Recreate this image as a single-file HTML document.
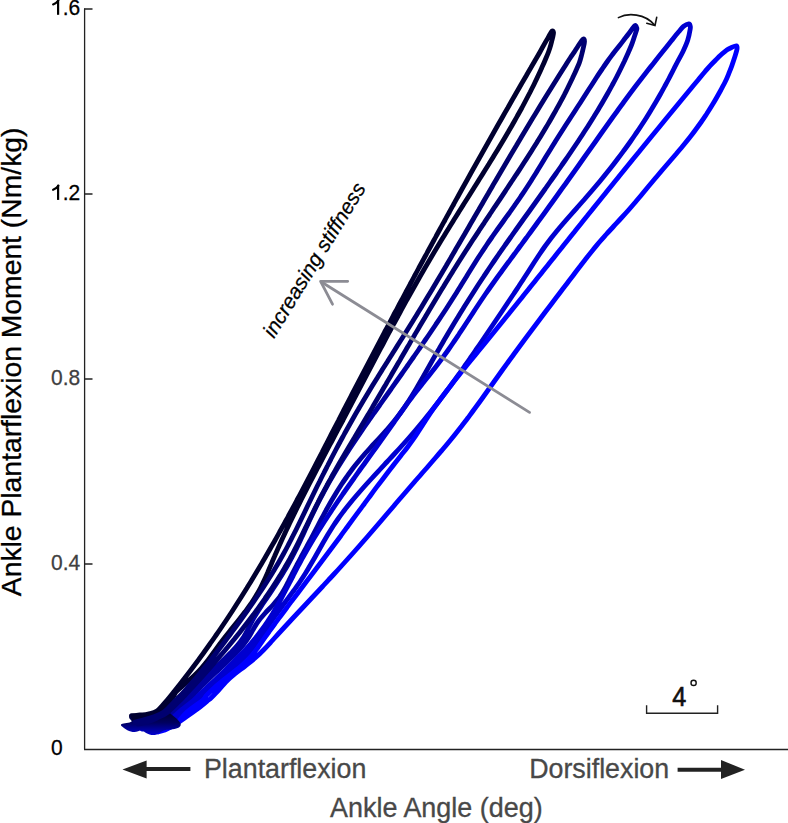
<!DOCTYPE html>
<html><head><meta charset="utf-8"><style>
html,body{margin:0;padding:0;background:#fff;}
body{width:788px;height:823px;overflow:hidden;position:relative;}
svg{position:absolute;left:0;top:0;}
text{font-family:"Liberation Sans",sans-serif;}
</style></head><body>
<svg width="788" height="823" viewBox="0 0 788 823">
<defs><linearGradient id="blobg" gradientUnits="userSpaceOnUse" x1="0" y1="712" x2="0" y2="736">
<stop offset="0" stop-color="#00002e"/><stop offset="0.45" stop-color="#000060"/><stop offset="1" stop-color="#0000d8"/></linearGradient></defs>
<!-- axes -->
<g stroke="#222" stroke-width="1.3" fill="none">
<path d="M84.6,8.4 V749.6"/>
<path d="M84,749.4 H788" stroke-width="1.5"/>
<path d="M84,9 H92.5 M84.6,194 H92.5 M84.6,379 H92.5 M84.6,564 H92.5"/>
</g>
<!-- tick labels -->
<g font-size="21" fill="#000" stroke="#000" stroke-width="0.25">
<text transform="translate(51,14.8) scale(1,1.09)" x="11.68">.6</text>
<text transform="translate(51,199.9) scale(1,1.09)" x="11.68">.2</text>
<text transform="translate(51,385) scale(1,1.09)" fill="#404040" stroke="#404040">0.8</text>
<text transform="translate(51,570.1) scale(1,1.09)" fill="#404040" stroke="#404040">0.4</text>
<text transform="translate(51,755.3) scale(1,1.09)">0</text>
</g>
<g stroke="#000" fill="none">
<path d="M58.1,-0.5 V14.8" stroke-width="2.2"/>
<path d="M58.4,0.3 Q56.6,3.2 53.1,4.5" stroke-width="2.1" stroke-linecap="round"/>
<path d="M58.1,184.8 V199.9" stroke-width="2.2"/>
<path d="M58.4,185.6 Q56.6,188.5 53.1,189.8" stroke-width="2.1" stroke-linecap="round"/>
</g>
<!-- curves -->

<g fill="none" stroke-width="4.8" stroke-linecap="round" stroke-linejoin="round">
<path d="M130.0,726.0 C133.3,725.7 144.8,725.2 150.0,724.0 C155.2,722.8 157.3,721.0 161.0,719.0 C164.7,717.0 168.0,715.2 172.0,712.0 C176.0,708.8 181.9,703.2 185.0,700.0 C188.1,696.8 188.7,695.5 190.8,693.0 C192.9,690.5 195.3,687.7 197.7,685.0 C200.1,682.3 202.7,679.7 205.3,677.0 C208.0,674.3 210.9,671.7 213.7,669.0 C216.5,666.3 219.4,663.7 222.2,661.0 C225.0,658.3 227.9,655.7 230.4,653.0 C233.0,650.3 235.6,647.7 237.7,645.0 C239.9,642.3 241.8,639.7 243.6,637.0 C245.3,634.3 246.6,631.7 248.0,629.0 C249.4,626.3 250.6,623.7 252.1,621.0 C253.6,618.3 255.2,615.7 256.9,613.0 C258.5,610.3 260.3,607.7 262.1,605.0 C263.9,602.3 265.8,599.7 267.6,597.0 C269.4,594.3 271.2,591.7 272.9,589.0 C274.7,586.3 276.4,583.7 278.1,581.0 C279.8,578.3 281.5,575.7 283.1,573.0 C284.7,570.3 286.3,567.7 287.8,565.0 C289.3,562.3 290.8,559.7 292.2,557.0 C293.6,554.3 294.9,551.7 296.3,549.0 C297.6,546.3 298.8,543.7 300.1,541.0 C301.3,538.3 302.6,535.7 303.8,533.0 C305.0,530.3 306.2,527.7 307.5,525.0 C308.7,522.3 309.9,519.7 311.2,517.0 C312.5,514.3 313.8,511.7 315.1,509.0 C316.4,506.3 317.7,503.7 319.1,501.0 C320.5,498.3 321.8,495.7 323.3,493.0 C324.7,490.3 326.1,487.7 327.6,485.0 C329.1,482.3 330.6,479.7 332.2,477.0 C333.7,474.3 335.3,471.7 336.9,469.0 C338.6,466.3 340.2,463.7 341.9,461.0 C343.6,458.3 345.3,455.7 347.0,453.0 C348.7,450.3 350.4,447.7 352.2,445.0 C354.0,442.3 355.8,439.7 357.6,437.0 C359.4,434.3 361.2,431.7 363.0,429.0 C364.8,426.3 366.7,423.7 368.5,421.0 C370.4,418.3 372.3,415.7 374.1,413.0 C376.0,410.3 377.9,407.7 379.8,405.0 C381.6,402.3 383.5,399.7 385.4,397.0 C387.3,394.3 389.2,391.7 391.1,389.0 C392.9,386.3 394.8,383.7 396.7,381.0 C398.6,378.3 400.5,375.7 402.4,373.0 C404.2,370.3 406.1,367.7 408.0,365.0 C409.8,362.3 411.7,359.7 413.6,357.0 C415.4,354.3 417.3,351.7 419.1,349.0 C421.0,346.3 422.8,343.7 424.6,341.0 C426.5,338.3 428.3,335.7 430.1,333.0 C431.9,330.3 433.7,327.7 435.5,325.0 C437.3,322.3 439.1,319.7 440.8,317.0 C442.6,314.3 444.3,311.7 446.1,309.0 C447.8,306.3 449.5,303.7 451.2,301.0 C452.9,298.3 454.6,295.7 456.3,293.0 C457.9,290.3 459.6,287.7 461.2,285.0 C462.9,282.3 464.5,279.7 466.2,277.0 C467.8,274.3 469.4,271.7 471.1,269.0 C472.8,266.3 474.4,263.7 476.1,261.0 C477.8,258.3 479.5,255.7 481.3,253.0 C483.0,250.3 484.8,247.7 486.6,245.0 C488.4,242.3 490.2,239.7 492.1,237.0 C493.9,234.3 495.8,231.7 497.7,229.0 C499.7,226.3 501.6,223.7 503.5,221.0 C505.4,218.3 507.3,215.7 509.3,213.0 C511.2,210.3 513.1,207.7 514.9,205.0 C516.8,202.3 518.7,199.7 520.5,197.0 C522.3,194.3 524.1,191.7 525.8,189.0 C527.6,186.3 529.3,183.7 531.0,181.0 C532.6,178.3 534.3,175.7 536.0,173.0 C537.6,170.3 539.2,167.7 540.9,165.0 C542.5,162.3 544.1,159.7 545.7,157.0 C547.4,154.3 549.0,151.7 550.7,149.0 C552.3,146.3 554.0,143.7 555.6,141.0 C557.3,138.3 559.0,135.7 560.7,133.0 C562.4,130.3 564.1,127.7 565.8,125.0 C567.6,122.3 569.3,119.7 571.0,117.0 C572.8,114.3 574.5,111.7 576.2,109.0 C577.9,106.3 579.7,103.7 581.4,101.0 C583.1,98.3 584.8,95.7 586.5,93.0 C588.2,90.3 589.9,87.7 591.7,85.0 C593.4,82.3 595.1,79.7 596.8,77.0 C598.6,74.3 600.3,71.7 602.2,69.0 C604.0,66.3 605.8,63.7 607.7,61.0 C609.6,58.3 611.6,55.7 613.6,53.0 C615.7,50.3 618.0,47.5 620.0,45.0 C622.0,42.5 623.7,40.1 625.5,37.8 C627.3,35.5 629.4,32.8 630.7,31.0 C632.1,29.2 632.8,27.9 633.6,27.0 C634.4,26.1 635.0,25.3 635.5,25.5 C636.0,25.7 636.6,27.2 636.8,28.0 C637.0,28.8 637.0,28.6 636.5,30.2 C636.0,31.8 634.8,35.3 634.0,37.8 C633.2,40.3 632.5,42.5 631.5,45.0 C630.5,47.5 629.3,50.3 628.1,53.0 C626.9,55.7 625.7,58.3 624.5,61.0 C623.2,63.7 621.9,66.3 620.6,69.0 C619.3,71.7 618.0,74.3 616.6,77.0 C615.2,79.7 613.8,82.3 612.3,85.0 C610.9,87.7 609.4,90.3 607.9,93.0 C606.4,95.7 604.9,98.3 603.3,101.0 C601.8,103.7 600.2,106.3 598.6,109.0 C597.0,111.7 595.3,114.3 593.7,117.0 C592.0,119.7 590.4,122.3 588.7,125.0 C587.0,127.7 585.2,130.3 583.5,133.0 C581.8,135.7 580.0,138.3 578.3,141.0 C576.5,143.7 574.7,146.3 572.9,149.0 C571.1,151.7 569.3,154.3 567.5,157.0 C565.6,159.7 563.8,162.3 561.9,165.0 C560.1,167.7 558.2,170.3 556.4,173.0 C554.5,175.7 552.6,178.3 550.7,181.0 C548.9,183.7 547.0,186.3 545.1,189.0 C543.2,191.7 541.3,194.3 539.4,197.0 C537.5,199.7 535.6,202.3 533.7,205.0 C531.8,207.7 529.9,210.3 528.0,213.0 C526.0,215.7 524.1,218.3 522.2,221.0 C520.3,223.7 518.4,226.3 516.5,229.0 C514.6,231.7 512.7,234.3 510.9,237.0 C509.0,239.7 507.1,242.3 505.2,245.0 C503.4,247.7 501.5,250.3 499.6,253.0 C497.8,255.7 496.0,258.3 494.1,261.0 C492.3,263.7 490.5,266.3 488.7,269.0 C486.9,271.7 485.1,274.3 483.4,277.0 C481.6,279.7 479.9,282.3 478.1,285.0 C476.4,287.7 474.7,290.3 473.0,293.0 C471.3,295.7 469.6,298.3 467.9,301.0 C466.2,303.7 464.5,306.3 462.9,309.0 C461.2,311.7 459.6,314.3 458.0,317.0 C456.3,319.7 454.7,322.3 453.1,325.0 C451.5,327.7 449.9,330.3 448.3,333.0 C446.8,335.7 445.2,338.3 443.6,341.0 C442.1,343.7 440.5,346.3 439.0,349.0 C437.4,351.7 435.9,354.3 434.3,357.0 C432.8,359.7 431.3,362.3 429.8,365.0 C428.3,367.7 426.8,370.3 425.3,373.0 C423.8,375.7 422.3,378.3 420.7,381.0 C419.2,383.7 417.7,386.3 416.1,389.0 C414.5,391.7 412.9,394.3 411.2,397.0 C409.6,399.7 407.9,402.3 406.0,405.0 C404.2,407.7 402.4,410.3 400.4,413.0 C398.4,415.7 396.4,418.3 394.2,421.0 C392.0,423.7 389.7,426.3 387.4,429.0 C385.0,431.7 382.6,434.3 380.2,437.0 C377.8,439.7 375.3,442.3 372.8,445.0 C370.4,447.7 368.0,450.3 365.6,453.0 C363.3,455.7 361.0,458.3 358.8,461.0 C356.6,463.7 354.4,466.3 352.4,469.0 C350.4,471.7 348.4,474.3 346.6,477.0 C344.7,479.7 342.9,482.3 341.1,485.0 C339.4,487.7 337.7,490.3 336.1,493.0 C334.5,495.7 332.9,498.3 331.3,501.0 C329.8,503.7 328.3,506.3 326.8,509.0 C325.3,511.7 323.9,514.3 322.5,517.0 C321.0,519.7 319.6,522.3 318.2,525.0 C316.8,527.7 315.4,530.3 314.0,533.0 C312.6,535.7 311.2,538.3 309.8,541.0 C308.3,543.7 306.9,546.3 305.5,549.0 C304.0,551.7 302.6,554.3 301.1,557.0 C299.7,559.7 298.3,562.3 296.8,565.0 C295.4,567.7 294.0,570.3 292.6,573.0 C291.3,575.7 289.9,578.3 288.6,581.0 C287.2,583.7 286.0,586.3 284.5,589.0 C283.0,591.7 281.5,594.3 279.6,597.0 C277.6,599.7 275.3,602.3 272.9,605.0 C270.6,607.7 267.7,610.3 265.3,613.0 C262.9,615.7 260.5,618.3 258.5,621.0 C256.5,623.7 255.1,626.3 253.5,629.0 C251.9,631.7 250.6,634.3 248.9,637.0 C247.2,639.7 245.3,642.3 243.2,645.0 C241.0,647.7 238.6,650.3 236.0,653.0 C233.5,655.7 230.7,658.3 227.9,661.0 C225.1,663.7 222.3,666.3 219.4,669.0 C216.6,671.7 213.7,674.3 210.9,677.0 C208.2,679.7 205.4,682.3 202.8,685.0 C200.2,687.7 197.5,690.5 195.3,693.0 C193.1,695.5 192.7,696.8 189.5,700.0 C186.3,703.2 180.1,708.7 176.0,712.0 C171.9,715.3 168.8,717.7 165.0,720.0 C161.2,722.3 157.8,724.7 153.0,726.0 C148.2,727.3 138.8,727.7 136.0,728.0" stroke="#0000a0"/>
<path d="M142.0,729.0 C144.5,728.7 152.5,728.3 157.0,727.0 C161.5,725.7 165.3,723.5 169.0,721.0 C172.7,718.5 174.8,715.5 179.0,712.0 C183.2,708.5 190.5,703.0 194.0,700.0 C197.5,697.0 197.7,696.3 200.1,694.0 C202.5,691.7 205.7,688.7 208.5,686.0 C211.3,683.3 214.2,680.7 217.0,678.0 C219.8,675.3 222.6,672.7 225.4,670.0 C228.1,667.3 230.8,664.7 233.5,662.0 C236.2,659.3 238.8,656.7 241.3,654.0 C243.9,651.3 246.3,648.7 248.7,646.0 C251.0,643.3 253.3,640.7 255.5,638.0 C257.6,635.3 259.7,632.7 261.6,630.0 C263.6,627.3 265.4,624.7 267.2,622.0 C269.0,619.3 270.7,616.7 272.4,614.0 C274.0,611.3 275.6,608.7 277.1,606.0 C278.7,603.3 280.1,600.7 281.6,598.0 C283.0,595.3 284.4,592.7 285.8,590.0 C287.2,587.3 288.6,584.7 290.0,582.0 C291.3,579.3 292.7,576.7 294.1,574.0 C295.5,571.3 296.8,568.7 298.2,566.0 C299.6,563.3 301.1,560.7 302.5,558.0 C304.0,555.3 305.5,552.7 307.0,550.0 C308.6,547.3 310.1,544.7 311.7,542.0 C313.3,539.3 314.9,536.7 316.6,534.0 C318.2,531.3 319.9,528.7 321.6,526.0 C323.3,523.3 325.0,520.7 326.8,518.0 C328.5,515.3 330.3,512.7 332.0,510.0 C333.8,507.3 335.6,504.7 337.4,502.0 C339.3,499.3 341.1,496.7 342.9,494.0 C344.8,491.3 346.6,488.7 348.5,486.0 C350.4,483.3 352.3,480.7 354.2,478.0 C356.0,475.3 357.9,472.7 359.8,470.0 C361.7,467.3 363.7,464.7 365.6,462.0 C367.5,459.3 369.4,456.7 371.3,454.0 C373.2,451.3 375.2,448.7 377.1,446.0 C379.0,443.3 380.9,440.7 382.8,438.0 C384.7,435.3 386.6,432.7 388.5,430.0 C390.4,427.3 392.3,424.7 394.2,422.0 C396.1,419.3 398.0,416.7 399.8,414.0 C401.7,411.3 403.6,408.7 405.5,406.0 C407.4,403.3 409.4,400.7 411.4,398.0 C413.3,395.3 415.4,392.7 417.5,390.0 C419.5,387.3 421.7,384.7 423.8,382.0 C425.9,379.3 428.1,376.7 430.2,374.0 C432.3,371.3 434.4,368.7 436.4,366.0 C438.4,363.3 440.4,360.7 442.4,358.0 C444.4,355.3 446.3,352.7 448.2,350.0 C450.1,347.3 451.9,344.7 453.7,342.0 C455.6,339.3 457.3,336.7 459.1,334.0 C460.9,331.3 462.7,328.7 464.4,326.0 C466.1,323.3 467.9,320.7 469.6,318.0 C471.4,315.3 473.1,312.7 474.8,310.0 C476.6,307.3 478.3,304.7 480.1,302.0 C481.9,299.3 483.7,296.7 485.5,294.0 C487.4,291.3 489.2,288.7 491.1,286.0 C493.0,283.3 494.9,280.7 496.8,278.0 C498.7,275.3 500.7,272.7 502.6,270.0 C504.6,267.3 506.5,264.7 508.5,262.0 C510.5,259.3 512.5,256.7 514.4,254.0 C516.4,251.3 518.4,248.7 520.3,246.0 C522.3,243.3 524.3,240.7 526.2,238.0 C528.2,235.3 530.2,232.7 532.1,230.0 C534.1,227.3 536.0,224.7 537.9,222.0 C539.9,219.3 541.8,216.7 543.8,214.0 C545.7,211.3 547.6,208.7 549.5,206.0 C551.5,203.3 553.4,200.7 555.3,198.0 C557.2,195.3 559.1,192.7 561.0,190.0 C562.9,187.3 564.9,184.7 566.8,182.0 C568.7,179.3 570.6,176.7 572.5,174.0 C574.4,171.3 576.3,168.7 578.2,166.0 C580.1,163.3 581.9,160.7 583.8,158.0 C585.7,155.3 587.6,152.7 589.5,150.0 C591.4,147.3 593.3,144.7 595.2,142.0 C597.1,139.3 598.9,136.7 600.8,134.0 C602.7,131.3 604.6,128.7 606.5,126.0 C608.4,123.3 610.3,120.7 612.2,118.0 C614.1,115.3 616.1,112.7 618.0,110.0 C619.9,107.3 621.9,104.7 623.8,102.0 C625.8,99.3 627.7,96.7 629.7,94.0 C631.7,91.3 633.7,88.7 635.7,86.0 C637.8,83.3 639.8,80.7 641.9,78.0 C643.9,75.3 646.0,72.7 648.1,70.0 C650.2,67.3 652.1,65.1 654.5,62.0 C656.9,58.9 659.9,55.1 662.8,51.5 C665.7,47.9 669.2,43.5 671.8,40.3 C674.4,37.0 676.5,34.3 678.5,32.0 C680.5,29.7 681.8,27.8 683.5,26.4 C685.2,25.0 687.7,23.9 688.8,23.8 C689.9,23.7 690.0,25.1 690.2,26.0 C690.4,26.9 690.6,26.8 690.2,29.2 C689.8,31.6 688.9,36.6 687.7,40.3 C686.5,44.0 684.7,47.9 683.0,51.5 C681.3,55.1 679.0,58.9 677.4,62.0 C675.8,65.1 674.7,67.3 673.3,70.0 C672.0,72.7 670.6,75.3 669.2,78.0 C667.8,80.7 666.4,83.3 664.9,86.0 C663.5,88.7 662.0,91.3 660.5,94.0 C659.0,96.7 657.5,99.3 655.9,102.0 C654.3,104.7 652.8,107.3 651.1,110.0 C649.5,112.7 647.9,115.3 646.2,118.0 C644.5,120.7 642.8,123.3 641.0,126.0 C639.3,128.7 637.5,131.3 635.6,134.0 C633.8,136.7 632.0,139.3 630.1,142.0 C628.2,144.7 626.3,147.3 624.3,150.0 C622.3,152.7 620.4,155.3 618.3,158.0 C616.3,160.7 614.3,163.3 612.2,166.0 C610.1,168.7 608.0,171.3 605.8,174.0 C603.7,176.7 601.5,179.3 599.3,182.0 C597.0,184.7 594.8,187.3 592.5,190.0 C590.2,192.7 587.9,195.3 585.6,198.0 C583.3,200.7 580.9,203.3 578.6,206.0 C576.2,208.7 573.8,211.3 571.5,214.0 C569.1,216.7 566.8,219.3 564.5,222.0 C562.2,224.7 559.9,227.3 557.7,230.0 C555.5,232.7 553.3,235.3 551.2,238.0 C549.2,240.7 547.2,243.3 545.2,246.0 C543.3,248.7 541.5,251.3 539.7,254.0 C537.9,256.7 536.2,259.3 534.4,262.0 C532.7,264.7 531.0,267.3 529.3,270.0 C527.6,272.7 525.9,275.3 524.1,278.0 C522.4,280.7 520.6,283.3 518.9,286.0 C517.1,288.7 515.3,291.3 513.6,294.0 C511.8,296.7 510.0,299.3 508.2,302.0 C506.4,304.7 504.7,307.3 502.9,310.0 C501.1,312.7 499.3,315.3 497.5,318.0 C495.7,320.7 493.9,323.3 492.1,326.0 C490.3,328.7 488.5,331.3 486.7,334.0 C484.9,336.7 483.1,339.3 481.3,342.0 C479.5,344.7 477.7,347.3 475.8,350.0 C474.0,352.7 472.2,355.3 470.3,358.0 C468.5,360.7 466.6,363.3 464.7,366.0 C462.9,368.7 461.0,371.3 459.1,374.0 C457.2,376.7 455.3,379.3 453.3,382.0 C451.4,384.7 449.4,387.3 447.4,390.0 C445.4,392.7 443.4,395.3 441.4,398.0 C439.4,400.7 437.3,403.3 435.2,406.0 C433.2,408.7 431.1,411.3 428.9,414.0 C426.8,416.7 424.6,419.3 422.4,422.0 C420.2,424.7 418.0,427.3 415.7,430.0 C413.4,432.7 411.1,435.3 408.8,438.0 C406.4,440.7 404.0,443.3 401.6,446.0 C399.2,448.7 396.8,451.3 394.3,454.0 C391.9,456.7 389.4,459.3 386.9,462.0 C384.4,464.7 381.9,467.3 379.5,470.0 C377.0,472.7 374.5,475.3 372.1,478.0 C369.6,480.7 367.2,483.3 364.8,486.0 C362.4,488.7 360.1,491.3 357.8,494.0 C355.5,496.7 353.2,499.3 351.0,502.0 C348.8,504.7 346.7,507.3 344.6,510.0 C342.6,512.7 340.6,515.3 338.7,518.0 C336.8,520.7 335.0,523.3 333.2,526.0 C331.5,528.7 329.9,531.3 328.2,534.0 C326.6,536.7 325.1,539.3 323.5,542.0 C322.0,544.7 320.5,547.3 319.0,550.0 C317.5,552.7 316.0,555.3 314.5,558.0 C312.9,560.7 311.4,563.3 309.8,566.0 C308.3,568.7 306.7,571.3 305.0,574.0 C303.3,576.7 301.6,579.3 299.8,582.0 C298.0,584.7 296.1,587.3 294.2,590.0 C292.2,592.7 290.2,595.3 288.3,598.0 C286.3,600.7 284.3,603.3 282.3,606.0 C280.4,608.7 278.4,611.3 276.5,614.0 C274.6,616.7 272.7,619.3 270.9,622.0 C269.1,624.7 267.4,627.3 265.6,630.0 C263.8,632.7 262.1,635.3 260.2,638.0 C258.4,640.7 256.5,643.3 254.4,646.0 C252.3,648.7 250.2,651.3 247.7,654.0 C245.3,656.7 242.6,659.3 239.8,662.0 C237.0,664.7 233.8,667.3 230.7,670.0 C227.5,672.7 224.2,675.3 221.0,678.0 C217.8,680.7 214.6,683.3 211.6,686.0 C208.7,688.7 205.6,691.7 203.4,694.0 C201.2,696.3 201.9,697.0 198.5,700.0 C195.1,703.0 187.2,708.3 183.0,712.0 C178.8,715.7 176.7,719.2 173.0,722.0 C169.3,724.8 165.0,727.5 161.0,729.0 C157.0,730.5 151.0,730.7 149.0,731.0" stroke="#0000d0"/>
<path d="M154.0,732.0 C155.8,731.7 161.2,731.5 165.0,730.0 C168.8,728.5 173.3,726.0 177.0,723.0 C180.7,720.0 182.7,715.8 187.0,712.0 C191.3,708.2 199.8,702.7 203.0,700.0 C206.2,697.3 204.4,697.8 206.3,695.7 C208.2,693.7 211.4,690.4 214.4,687.7 C217.3,685.0 220.8,682.4 224.1,679.7 C227.4,677.0 230.9,674.4 234.2,671.7 C237.5,669.0 240.8,666.4 243.7,663.7 C246.6,661.0 249.3,658.4 251.6,655.7 C254.0,653.0 255.9,650.4 257.9,647.7 C259.8,645.0 261.5,642.4 263.4,639.7 C265.3,637.0 267.1,634.4 269.1,631.7 C271.0,629.0 272.9,626.4 274.9,623.7 C276.8,621.0 278.8,618.4 280.8,615.7 C282.8,613.0 284.8,610.4 286.8,607.7 C288.7,605.0 290.7,602.4 292.7,599.7 C294.8,597.0 296.8,594.4 298.8,591.7 C300.8,589.0 302.8,586.4 304.8,583.7 C306.8,581.0 308.8,578.4 310.9,575.7 C312.9,573.0 314.9,570.4 316.9,567.7 C318.9,565.0 320.9,562.4 322.9,559.7 C324.9,557.0 326.9,554.4 328.9,551.7 C330.9,549.0 332.9,546.4 334.9,543.7 C336.9,541.0 338.9,538.4 340.9,535.7 C342.8,533.0 344.8,530.4 346.7,527.7 C348.7,525.0 350.7,522.4 352.6,519.7 C354.6,517.0 356.5,514.4 358.5,511.7 C360.4,509.0 362.4,506.4 364.4,503.7 C366.3,501.0 368.3,498.4 370.3,495.7 C372.3,493.0 374.2,490.4 376.2,487.7 C378.2,485.0 380.2,482.4 382.3,479.7 C384.3,477.0 386.3,474.4 388.3,471.7 C390.4,469.0 392.5,466.4 394.5,463.7 C396.6,461.0 398.7,458.4 400.8,455.7 C402.9,453.0 405.1,450.4 407.1,447.7 C409.1,445.0 411.1,442.4 413.0,439.7 C414.9,437.0 416.6,434.4 418.3,431.7 C420.1,429.0 421.7,426.4 423.5,423.7 C425.2,421.0 426.9,418.4 428.7,415.7 C430.5,413.0 432.3,410.4 434.2,407.7 C436.1,405.0 438.0,402.4 440.0,399.7 C441.9,397.0 443.9,394.4 446.0,391.7 C448.0,389.0 450.1,386.4 452.1,383.7 C454.2,381.0 456.3,378.4 458.5,375.7 C460.6,373.0 462.7,370.4 464.9,367.7 C467.0,365.0 469.2,362.4 471.4,359.7 C473.6,357.0 475.8,354.4 477.9,351.7 C480.1,349.0 482.3,346.4 484.5,343.7 C486.7,341.0 488.8,338.4 491.0,335.7 C493.2,333.0 495.3,330.4 497.5,327.7 C499.7,325.0 501.8,322.4 504.0,319.7 C506.1,317.0 508.3,314.4 510.4,311.7 C512.6,309.0 514.7,306.4 516.9,303.7 C519.0,301.0 521.2,298.4 523.3,295.7 C525.4,293.0 527.6,290.4 529.7,287.7 C531.8,285.0 534.0,282.4 536.1,279.7 C538.2,277.0 540.4,274.4 542.5,271.7 C544.6,269.0 546.8,266.4 548.9,263.7 C551.0,261.0 553.2,258.4 555.3,255.7 C557.4,253.0 559.5,250.4 561.7,247.7 C563.8,245.0 565.9,242.4 568.1,239.7 C570.2,237.0 572.3,234.4 574.5,231.7 C576.6,229.0 578.7,226.4 580.9,223.7 C583.0,221.0 585.1,218.4 587.3,215.7 C589.4,213.0 591.6,210.4 593.7,207.7 C595.9,205.0 598.0,202.4 600.2,199.7 C602.3,197.0 604.5,194.4 606.6,191.7 C608.8,189.0 610.9,186.4 613.1,183.7 C615.2,181.0 617.4,178.4 619.5,175.7 C621.7,173.0 623.9,170.4 626.0,167.7 C628.2,165.0 630.4,162.4 632.5,159.7 C634.7,157.0 636.9,154.4 639.1,151.7 C641.2,149.0 643.4,146.4 645.6,143.7 C647.8,141.0 649.9,138.4 652.1,135.7 C654.3,133.0 656.5,130.4 658.7,127.7 C660.9,125.0 663.0,122.4 665.2,119.7 C667.4,117.0 669.6,114.4 671.8,111.7 C674.0,109.0 676.2,106.4 678.4,103.7 C680.6,101.0 682.8,98.4 685.0,95.7 C687.2,93.0 689.4,90.4 691.6,87.7 C693.8,85.0 696.0,82.4 698.3,79.7 C700.5,77.0 702.9,74.0 704.9,71.7 C706.9,69.4 708.2,67.7 710.0,65.8 C711.8,63.9 713.7,62.0 715.5,60.2 C717.3,58.4 719.0,56.6 720.8,55.0 C722.6,53.4 724.4,51.6 726.2,50.4 C728.0,49.1 729.8,48.3 731.5,47.5 C733.2,46.7 735.4,45.5 736.3,45.8 C737.2,46.1 737.3,47.2 737.0,49.2 C736.7,51.2 735.5,54.8 734.6,57.6 C733.7,60.4 732.8,63.1 731.8,65.9 C730.8,68.7 729.6,71.6 728.5,74.3 C727.4,77.0 726.4,79.4 725.1,82.0 C723.8,84.6 722.3,87.3 720.9,90.0 C719.4,92.7 717.9,95.3 716.4,98.0 C714.9,100.7 713.3,103.3 711.6,106.0 C710.0,108.7 708.3,111.3 706.6,114.0 C704.8,116.7 703.1,119.3 701.2,122.0 C699.3,124.7 697.4,127.3 695.4,130.0 C693.5,132.7 691.4,135.3 689.3,138.0 C687.2,140.7 685.0,143.3 682.8,146.0 C680.6,148.7 678.3,151.3 676.1,154.0 C673.8,156.7 671.5,159.3 669.2,162.0 C666.9,164.7 664.6,167.3 662.3,170.0 C660.1,172.7 657.8,175.3 655.5,178.0 C653.3,180.7 651.1,183.3 648.8,186.0 C646.6,188.7 644.4,191.3 642.2,194.0 C640.0,196.7 637.7,199.3 635.5,202.0 C633.2,204.7 630.9,207.3 628.6,210.0 C626.2,212.7 623.8,215.3 621.3,218.0 C618.9,220.7 616.4,223.3 613.9,226.0 C611.5,228.7 609.0,231.3 606.6,234.0 C604.2,236.7 601.8,239.3 599.5,242.0 C597.3,244.7 595.0,247.3 592.9,250.0 C590.7,252.7 588.6,255.3 586.5,258.0 C584.4,260.7 582.3,263.3 580.3,266.0 C578.2,268.7 576.2,271.3 574.2,274.0 C572.2,276.7 570.1,279.3 568.1,282.0 C566.1,284.7 564.0,287.3 562.0,290.0 C560.0,292.7 558.0,295.3 555.9,298.0 C553.9,300.7 551.9,303.3 549.9,306.0 C547.8,308.7 545.8,311.3 543.8,314.0 C541.8,316.7 539.8,319.3 537.8,322.0 C535.8,324.7 533.8,327.3 531.8,330.0 C529.8,332.7 527.8,335.3 525.8,338.0 C523.8,340.7 521.9,343.3 519.9,346.0 C517.9,348.7 516.0,351.3 514.0,354.0 C512.1,356.7 510.1,359.3 508.2,362.0 C506.3,364.7 504.3,367.3 502.4,370.0 C500.5,372.7 498.6,375.3 496.7,378.0 C494.8,380.7 492.9,383.3 491.0,386.0 C489.1,388.7 487.2,391.3 485.3,394.0 C483.4,396.7 481.5,399.3 479.6,402.0 C477.6,404.7 475.7,407.3 473.7,410.0 C471.8,412.7 469.8,415.3 467.8,418.0 C465.8,420.7 463.7,423.3 461.7,426.0 C459.6,428.7 457.5,431.3 455.4,434.0 C453.3,436.7 451.1,439.3 448.9,442.0 C446.7,444.7 444.5,447.3 442.2,450.0 C439.9,452.7 437.7,455.3 435.3,458.0 C433.0,460.7 430.7,463.3 428.4,466.0 C426.1,468.7 423.7,471.3 421.4,474.0 C419.1,476.7 416.7,479.3 414.4,482.0 C412.1,484.7 409.8,487.3 407.5,490.0 C405.2,492.7 402.9,495.3 400.6,498.0 C398.3,500.7 396.0,503.3 393.8,506.0 C391.5,508.7 389.2,511.3 386.9,514.0 C384.6,516.7 382.4,519.3 380.1,522.0 C377.8,524.7 375.5,527.3 373.2,530.0 C370.9,532.7 368.6,535.3 366.3,538.0 C363.9,540.7 361.6,543.3 359.3,546.0 C356.9,548.7 354.6,551.3 352.2,554.0 C349.8,556.7 347.4,559.3 345.0,562.0 C342.6,564.7 340.2,567.3 337.8,570.0 C335.3,572.7 332.9,575.3 330.4,578.0 C327.9,580.7 325.4,583.3 323.0,586.0 C320.5,588.7 318.0,591.3 315.5,594.0 C313.0,596.7 310.5,599.3 308.0,602.0 C305.5,604.7 303.0,607.3 300.5,610.0 C298.0,612.7 295.5,615.3 293.0,618.0 C290.5,620.7 288.1,623.3 285.6,626.0 C283.1,628.7 280.7,631.3 278.2,634.0 C275.8,636.7 273.4,639.3 271.0,642.0 C268.5,644.7 266.1,647.3 263.5,650.0 C260.9,652.7 258.2,655.3 255.1,658.0 C252.1,660.7 248.6,663.3 245.2,666.0 C241.8,668.7 238.0,671.3 234.8,674.0 C231.5,676.7 228.5,679.3 225.8,682.0 C223.1,684.7 221.2,687.3 218.7,690.0 C216.3,692.7 212.7,696.3 211.0,698.0 C209.3,699.7 210.3,698.5 208.5,700.0 C206.7,701.5 203.8,704.2 200.0,707.0 C196.2,709.8 190.0,714.2 186.0,717.0 C182.0,719.8 179.2,722.0 176.0,724.0 C172.8,726.0 170.0,727.7 167.0,729.0 C164.0,730.3 159.5,731.5 158.0,732.0" stroke="#0000ff"/>
</g><path d="M164.7,702.7 C162.8,702.3 160.3,707.9 157.6,709.8 C154.9,711.7 153.1,713.6 148.7,714.2 C144.3,714.8 134.7,712.7 131.4,713.3 C128.2,713.9 129.2,716.4 129.2,717.8 C129.2,719.2 132.7,720.8 131.4,721.8 C130.2,722.8 123.2,723.2 121.7,724.0 C120.2,724.8 121.1,725.6 122.1,726.6 C123.0,727.6 125.3,729.3 127.4,730.2 C129.5,731.1 132.1,732.0 134.5,732.0 C136.9,732.0 139.7,730.1 141.6,730.2 C143.5,730.4 144.2,732.1 146.1,732.9 C148.0,733.7 151.0,735.1 153.2,735.1 C155.4,735.1 157.5,733.7 159.4,732.9 C161.3,732.1 162.5,730.8 164.7,730.2 C166.9,729.6 170.3,729.8 172.7,729.3 C175.1,728.8 177.6,728.4 178.9,727.5 C180.2,726.6 181.0,725.4 180.7,724.0 C180.4,722.6 178.9,721.0 177.0,719.0 C175.1,717.0 171.1,714.7 169.0,712.0 C166.9,709.3 166.6,703.1 164.7,702.7Z" fill="url(#blobg)" stroke="none"/><g fill="none" stroke-width="4.8" stroke-linecap="round" stroke-linejoin="round">
<path d="M133.0,716.0 C134.2,715.8 137.5,715.3 140.0,715.0 C142.5,714.7 145.2,714.7 148.0,714.0 C150.8,713.3 153.8,713.3 157.0,711.0 C160.2,708.7 164.4,703.2 167.2,700.0 C170.0,696.8 171.6,694.7 173.7,692.0 C175.9,689.3 178.0,686.7 180.1,684.0 C182.2,681.3 184.3,678.7 186.3,676.0 C188.4,673.3 190.4,670.7 192.4,668.0 C194.4,665.3 196.4,662.7 198.4,660.0 C200.3,657.3 202.3,654.7 204.2,652.0 C206.1,649.3 208.0,646.7 209.9,644.0 C211.8,641.3 213.7,638.7 215.5,636.0 C217.4,633.3 219.2,630.7 221.0,628.0 C222.8,625.3 224.6,622.7 226.4,620.0 C228.2,617.3 229.9,614.7 231.7,612.0 C233.4,609.3 235.1,606.7 236.8,604.0 C238.5,601.3 240.2,598.7 241.9,596.0 C243.6,593.3 245.2,590.7 246.9,588.0 C248.5,585.3 250.2,582.7 251.8,580.0 C253.4,577.3 255.0,574.7 256.6,572.0 C258.2,569.3 259.8,566.7 261.4,564.0 C262.9,561.3 264.5,558.7 266.0,556.0 C267.6,553.3 269.1,550.7 270.6,548.0 C272.1,545.3 273.7,542.7 275.2,540.0 C276.7,537.3 278.2,534.7 279.6,532.0 C281.1,529.3 282.6,526.7 284.1,524.0 C285.5,521.3 287.0,518.7 288.4,516.0 C289.9,513.3 291.3,510.7 292.8,508.0 C294.2,505.3 295.6,502.7 297.0,500.0 C298.5,497.3 299.9,494.7 301.3,492.0 C302.7,489.3 304.1,486.7 305.5,484.0 C306.9,481.3 308.3,478.7 309.7,476.0 C311.1,473.3 312.5,470.7 313.9,468.0 C315.3,465.3 316.6,462.7 318.0,460.0 C319.4,457.3 320.8,454.7 322.2,452.0 C323.5,449.3 324.9,446.7 326.3,444.0 C327.7,441.3 329.0,438.7 330.4,436.0 C331.8,433.3 333.2,430.7 334.5,428.0 C335.9,425.3 337.3,422.7 338.7,420.0 C340.0,417.3 341.4,414.7 342.8,412.0 C344.2,409.3 345.6,406.7 346.9,404.0 C348.3,401.3 349.7,398.7 351.1,396.0 C352.5,393.3 353.9,390.7 355.2,388.0 C356.6,385.3 358.0,382.7 359.4,380.0 C360.8,377.3 362.2,374.7 363.6,372.0 C365.0,369.3 366.4,366.7 367.8,364.0 C369.2,361.3 370.6,358.7 372.0,356.0 C373.4,353.3 374.8,350.7 376.2,348.0 C377.6,345.3 379.0,342.7 380.4,340.0 C381.8,337.3 383.2,334.7 384.6,332.0 C386.1,329.3 387.5,326.7 388.9,324.0 C390.3,321.3 391.7,318.7 393.1,316.0 C394.5,313.3 396.0,310.7 397.4,308.0 C398.8,305.3 400.2,302.7 401.7,300.0 C403.1,297.3 404.5,294.7 405.9,292.0 C407.4,289.3 408.8,286.7 410.2,284.0 C411.7,281.3 413.1,278.7 414.5,276.0 C416.0,273.3 417.4,270.7 418.8,268.0 C420.3,265.3 421.7,262.7 423.2,260.0 C424.6,257.3 426.1,254.7 427.5,252.0 C429.0,249.3 430.4,246.7 431.9,244.0 C433.3,241.3 434.8,238.7 436.2,236.0 C437.7,233.3 439.1,230.7 440.6,228.0 C442.0,225.3 443.5,222.7 445.0,220.0 C446.4,217.3 447.9,214.7 449.4,212.0 C450.8,209.3 452.3,206.7 453.8,204.0 C455.2,201.3 456.7,198.7 458.2,196.0 C459.7,193.3 461.1,190.7 462.6,188.0 C464.1,185.3 465.6,182.7 467.1,180.0 C468.6,177.3 470.0,174.7 471.5,172.0 C473.0,169.3 474.5,166.7 476.0,164.0 C477.5,161.3 479.0,158.7 480.5,156.0 C482.0,153.3 483.5,150.7 485.0,148.0 C486.5,145.3 488.0,142.7 489.5,140.0 C491.0,137.3 492.5,134.7 494.0,132.0 C495.5,129.3 497.0,126.7 498.5,124.0 C500.1,121.3 501.6,118.7 503.1,116.0 C504.6,113.3 506.1,110.7 507.7,108.0 C509.2,105.3 510.7,102.7 512.2,100.0 C513.8,97.3 515.3,94.7 516.8,92.0 C518.4,89.3 519.9,86.7 521.4,84.0 C523.0,81.3 524.5,78.7 526.1,76.0 C527.6,73.3 529.1,70.7 530.7,68.0 C532.2,65.3 533.8,62.7 535.3,60.0 C536.9,57.3 538.6,54.5 540.0,52.0 C541.4,49.5 542.5,47.3 543.9,44.8 C545.3,42.3 547.3,39.0 548.5,37.0 C549.7,35.0 550.4,33.5 551.0,32.5 C551.6,31.5 551.9,30.8 552.3,30.8 C552.7,30.8 553.4,31.5 553.5,32.5 C553.6,33.5 553.2,35.0 552.8,37.0 C552.3,39.0 551.5,42.3 550.8,44.8 C550.1,47.3 549.4,49.5 548.5,52.0 C547.6,54.5 546.3,57.3 545.2,60.0 C544.1,62.7 542.9,65.3 541.7,68.0 C540.5,70.7 539.3,73.3 538.0,76.0 C536.8,78.7 535.5,81.3 534.2,84.0 C532.9,86.7 531.5,89.3 530.2,92.0 C528.8,94.7 527.4,97.3 526.0,100.0 C524.6,102.7 523.2,105.3 521.8,108.0 C520.3,110.7 518.8,113.3 517.3,116.0 C515.9,118.7 514.3,121.3 512.8,124.0 C511.3,126.7 509.7,129.3 508.2,132.0 C506.6,134.7 505.1,137.3 503.5,140.0 C501.9,142.7 500.3,145.3 498.7,148.0 C497.1,150.7 495.4,153.3 493.8,156.0 C492.2,158.7 490.5,161.3 488.9,164.0 C487.2,166.7 485.6,169.3 483.9,172.0 C482.3,174.7 480.6,177.3 478.9,180.0 C477.3,182.7 475.6,185.3 473.9,188.0 C472.2,190.7 470.6,193.3 468.9,196.0 C467.2,198.7 465.5,201.3 463.8,204.0 C462.2,206.7 460.5,209.3 458.8,212.0 C457.2,214.7 455.5,217.3 453.8,220.0 C452.2,222.7 450.5,225.3 448.9,228.0 C447.2,230.7 445.6,233.3 444.0,236.0 C442.3,238.7 440.7,241.3 439.1,244.0 C437.5,246.7 435.9,249.3 434.3,252.0 C432.7,254.7 431.2,257.3 429.6,260.0 C428.0,262.7 426.5,265.3 424.9,268.0 C423.4,270.7 421.9,273.3 420.3,276.0 C418.8,278.7 417.3,281.3 415.8,284.0 C414.3,286.7 412.8,289.3 411.3,292.0 C409.8,294.7 408.3,297.3 406.8,300.0 C405.4,302.7 403.9,305.3 402.4,308.0 C401.0,310.7 399.5,313.3 398.1,316.0 C396.6,318.7 395.2,321.3 393.7,324.0 C392.3,326.7 390.9,329.3 389.4,332.0 C388.0,334.7 386.6,337.3 385.2,340.0 C383.8,342.7 382.3,345.3 380.9,348.0 C379.5,350.7 378.1,353.3 376.7,356.0 C375.3,358.7 373.9,361.3 372.5,364.0 C371.1,366.7 369.7,369.3 368.3,372.0 C366.9,374.7 365.5,377.3 364.1,380.0 C362.7,382.7 361.3,385.3 359.9,388.0 C358.5,390.7 357.1,393.3 355.7,396.0 C354.3,398.7 352.9,401.3 351.5,404.0 C350.1,406.7 348.7,409.3 347.3,412.0 C345.9,414.7 344.5,417.3 343.1,420.0 C341.6,422.7 340.2,425.3 338.8,428.0 C337.4,430.7 336.0,433.3 334.6,436.0 C333.2,438.7 331.7,441.3 330.3,444.0 C328.9,446.7 327.5,449.3 326.1,452.0 C324.7,454.7 323.3,457.3 321.9,460.0 C320.5,462.7 319.0,465.3 317.6,468.0 C316.2,470.7 314.9,473.3 313.5,476.0 C312.1,478.7 310.7,481.3 309.3,484.0 C307.9,486.7 306.6,489.3 305.2,492.0 C303.8,494.7 302.5,497.3 301.1,500.0 C299.8,502.7 298.5,505.3 297.1,508.0 C295.8,510.7 294.5,513.3 293.2,516.0 C291.9,518.7 290.6,521.3 289.3,524.0 C288.1,526.7 286.8,529.3 285.5,532.0 C284.3,534.7 283.0,537.3 281.8,540.0 C280.6,542.7 279.4,545.3 278.2,548.0 C277.0,550.7 275.8,553.3 274.7,556.0 C273.5,558.7 272.4,561.3 271.3,564.0 C270.1,566.7 269.0,569.3 267.9,572.0 C266.7,574.7 265.6,577.3 264.3,580.0 C263.1,582.7 261.8,585.3 260.4,588.0 C259.0,590.7 257.5,593.3 255.9,596.0 C254.3,598.7 252.6,601.3 250.8,604.0 C248.9,606.7 246.9,609.3 244.9,612.0 C242.9,614.7 240.8,617.3 238.7,620.0 C236.5,622.7 234.4,625.3 232.2,628.0 C230.1,630.7 227.9,633.3 225.9,636.0 C223.8,638.7 221.8,641.3 219.8,644.0 C217.9,646.7 216.0,649.3 214.0,652.0 C212.1,654.7 210.2,657.3 208.1,660.0 C206.0,662.7 203.9,665.3 201.5,668.0 C199.1,670.7 196.6,673.3 193.8,676.0 C191.0,678.7 187.7,681.3 184.8,684.0 C181.8,686.7 178.3,689.3 176.0,692.0 C173.8,694.7 174.2,696.7 171.5,700.0 C168.8,703.3 163.6,709.3 160.0,712.0 C156.4,714.7 153.2,715.0 150.0,716.0 C146.8,717.0 143.7,717.5 141.0,718.0 C138.3,718.5 135.2,718.8 134.0,719.0" stroke="#000030"/>
<path d="M135.0,722.0 C136.3,721.7 140.0,720.8 143.0,720.0 C146.0,719.2 149.5,718.3 153.0,717.0 C156.5,715.7 160.2,714.8 164.0,712.0 C167.8,709.2 173.6,702.4 176.0,700.0 C178.4,697.6 176.8,699.2 178.4,697.5 C180.1,695.8 183.5,692.2 185.9,689.5 C188.3,686.8 190.7,684.2 193.0,681.5 C195.3,678.8 197.6,676.2 199.8,673.5 C202.0,670.8 204.2,668.2 206.3,665.5 C208.5,662.8 210.6,660.2 212.7,657.5 C214.8,654.8 216.8,652.2 218.8,649.5 C220.9,646.8 222.9,644.2 224.9,641.5 C226.9,638.8 228.9,636.2 230.8,633.5 C232.8,630.8 234.8,628.2 236.7,625.5 C238.7,622.8 240.6,620.2 242.5,617.5 C244.4,614.8 246.3,612.2 248.2,609.5 C250.1,606.8 252.0,604.2 253.8,601.5 C255.6,598.8 257.4,596.2 259.2,593.5 C261.0,590.8 262.8,588.2 264.5,585.5 C266.2,582.8 267.9,580.2 269.6,577.5 C271.3,574.8 272.9,572.2 274.5,569.5 C276.1,566.8 277.7,564.2 279.2,561.5 C280.7,558.8 282.2,556.2 283.7,553.5 C285.2,550.8 286.6,548.2 288.0,545.5 C289.4,542.8 290.8,540.2 292.1,537.5 C293.5,534.8 294.8,532.2 296.2,529.5 C297.5,526.8 298.8,524.2 300.1,521.5 C301.4,518.8 302.7,516.2 304.0,513.5 C305.3,510.8 306.5,508.2 307.8,505.5 C309.1,502.8 310.4,500.2 311.7,497.5 C313.0,494.8 314.3,492.2 315.6,489.5 C316.9,486.8 318.2,484.2 319.6,481.5 C320.9,478.8 322.2,476.2 323.6,473.5 C324.9,470.8 326.3,468.2 327.7,465.5 C329.0,462.8 330.4,460.2 331.8,457.5 C333.2,454.8 334.6,452.2 336.0,449.5 C337.4,446.8 338.8,444.2 340.3,441.5 C341.7,438.8 343.2,436.2 344.6,433.5 C346.1,430.8 347.6,428.2 349.1,425.5 C350.6,422.8 352.1,420.2 353.6,417.5 C355.1,414.8 356.6,412.2 358.2,409.5 C359.7,406.8 361.3,404.2 362.9,401.5 C364.5,398.8 366.1,396.2 367.7,393.5 C369.3,390.8 370.9,388.2 372.5,385.5 C374.2,382.8 375.8,380.2 377.5,377.5 C379.1,374.8 380.8,372.2 382.4,369.5 C384.1,366.8 385.8,364.2 387.5,361.5 C389.1,358.8 390.8,356.2 392.5,353.5 C394.2,350.8 395.9,348.2 397.5,345.5 C399.2,342.8 400.9,340.2 402.6,337.5 C404.3,334.8 405.9,332.2 407.6,329.5 C409.3,326.8 410.9,324.2 412.6,321.5 C414.2,318.8 415.9,316.2 417.5,313.5 C419.1,310.8 420.8,308.2 422.4,305.5 C424.0,302.8 425.6,300.2 427.2,297.5 C428.9,294.8 430.5,292.2 432.1,289.5 C433.6,286.8 435.2,284.2 436.8,281.5 C438.4,278.8 440.0,276.2 441.6,273.5 C443.1,270.8 444.7,268.2 446.3,265.5 C447.8,262.8 449.4,260.2 451.0,257.5 C452.5,254.8 454.1,252.2 455.6,249.5 C457.2,246.8 458.8,244.2 460.3,241.5 C461.9,238.8 463.4,236.2 465.0,233.5 C466.5,230.8 468.1,228.2 469.6,225.5 C471.1,222.8 472.7,220.2 474.2,217.5 C475.8,214.8 477.3,212.2 478.9,209.5 C480.4,206.8 482.0,204.2 483.5,201.5 C485.1,198.8 486.6,196.2 488.2,193.5 C489.7,190.8 491.3,188.2 492.8,185.5 C494.4,182.8 496.0,180.2 497.5,177.5 C499.1,174.8 500.6,172.2 502.2,169.5 C503.8,166.8 505.3,164.2 506.9,161.5 C508.5,158.8 510.0,156.2 511.6,153.5 C513.2,150.8 514.8,148.2 516.4,145.5 C517.9,142.8 519.5,140.2 521.1,137.5 C522.7,134.8 524.3,132.2 525.9,129.5 C527.5,126.8 529.1,124.2 530.7,121.5 C532.3,118.8 533.9,116.2 535.6,113.5 C537.2,110.8 538.8,108.2 540.4,105.5 C542.1,102.8 543.7,100.2 545.3,97.5 C547.0,94.8 548.6,92.2 550.3,89.5 C552.0,86.8 553.6,84.2 555.3,81.5 C557.0,78.8 558.6,76.2 560.3,73.5 C562.0,70.8 563.7,68.2 565.4,65.5 C567.1,62.8 569.0,59.7 570.5,57.5 C572.0,55.3 573.0,53.9 574.2,52.1 C575.4,50.3 576.6,48.3 577.8,46.5 C579.0,44.7 580.4,42.7 581.3,41.4 C582.2,40.1 582.8,38.8 583.3,38.8 C583.8,38.8 584.5,39.8 584.5,41.5 C584.5,43.2 583.6,46.5 583.1,48.8 C582.6,51.0 582.2,52.7 581.6,55.0 C581.0,57.3 580.3,60.2 579.3,62.8 C578.3,65.4 577.0,68.1 575.9,70.8 C574.7,73.5 573.4,76.1 572.2,78.8 C570.9,81.5 569.6,84.1 568.3,86.8 C567.0,89.5 565.6,92.1 564.3,94.8 C562.9,97.5 561.5,100.1 560.0,102.8 C558.6,105.5 557.1,108.1 555.6,110.8 C554.1,113.5 552.6,116.1 551.1,118.8 C549.6,121.5 548.0,124.1 546.4,126.8 C544.8,129.5 543.2,132.1 541.6,134.8 C540.0,137.5 538.3,140.1 536.7,142.8 C535.0,145.5 533.3,148.1 531.7,150.8 C530.0,153.5 528.3,156.1 526.5,158.8 C524.8,161.5 523.1,164.1 521.4,166.8 C519.6,169.5 517.9,172.1 516.1,174.8 C514.4,177.5 512.6,180.1 510.8,182.8 C509.1,185.5 507.3,188.1 505.5,190.8 C503.7,193.5 502.0,196.1 500.2,198.8 C498.4,201.5 496.6,204.1 494.8,206.8 C493.1,209.5 491.3,212.1 489.5,214.8 C487.7,217.5 485.9,220.1 484.2,222.8 C482.4,225.5 480.6,228.1 478.9,230.8 C477.1,233.5 475.4,236.1 473.6,238.8 C471.9,241.5 470.2,244.1 468.4,246.8 C466.7,249.5 465.0,252.1 463.3,254.8 C461.6,257.5 459.9,260.1 458.2,262.8 C456.6,265.5 454.9,268.1 453.2,270.8 C451.6,273.5 449.9,276.1 448.3,278.8 C446.6,281.5 445.0,284.1 443.4,286.8 C441.7,289.5 440.1,292.1 438.5,294.8 C436.9,297.5 435.3,300.1 433.7,302.8 C432.1,305.5 430.5,308.1 428.9,310.8 C427.3,313.5 425.7,316.1 424.2,318.8 C422.6,321.5 421.0,324.1 419.4,326.8 C417.9,329.5 416.3,332.1 414.7,334.8 C413.2,337.5 411.6,340.1 410.0,342.8 C408.5,345.5 406.9,348.1 405.4,350.8 C403.8,353.5 402.3,356.1 400.7,358.8 C399.2,361.5 397.6,364.1 396.1,366.8 C394.5,369.5 393.0,372.1 391.4,374.8 C389.9,377.5 388.3,380.1 386.7,382.8 C385.2,385.5 383.6,388.1 382.1,390.8 C380.5,393.5 379.0,396.1 377.4,398.8 C375.8,401.5 374.3,404.1 372.7,406.8 C371.2,409.5 369.6,412.1 368.0,414.8 C366.4,417.5 364.9,420.1 363.3,422.8 C361.7,425.5 360.1,428.1 358.5,430.8 C356.9,433.5 355.3,436.1 353.8,438.8 C352.2,441.5 350.6,444.1 349.0,446.8 C347.4,449.5 345.9,452.1 344.3,454.8 C342.7,457.5 341.2,460.1 339.6,462.8 C338.1,465.5 336.6,468.1 335.1,470.8 C333.5,473.5 332.0,476.1 330.6,478.8 C329.1,481.5 327.6,484.1 326.2,486.8 C324.7,489.5 323.3,492.1 321.9,494.8 C320.5,497.5 319.1,500.1 317.8,502.8 C316.4,505.5 315.1,508.1 313.8,510.8 C312.5,513.5 311.2,516.1 309.9,518.8 C308.6,521.5 307.3,524.1 306.0,526.8 C304.7,529.5 303.5,532.1 302.1,534.8 C300.8,537.5 299.5,540.1 298.2,542.8 C296.8,545.5 295.5,548.1 294.1,550.8 C292.7,553.5 291.2,556.1 289.8,558.8 C288.3,561.5 286.8,564.1 285.2,566.8 C283.7,569.5 282.1,572.1 280.5,574.8 C278.8,577.5 277.2,580.1 275.5,582.8 C273.8,585.5 272.0,588.1 270.2,590.8 C268.5,593.5 266.6,596.1 264.8,598.8 C262.9,601.5 261.0,604.1 259.1,606.8 C257.2,609.5 255.2,612.1 253.3,614.8 C251.3,617.5 249.3,620.1 247.2,622.8 C245.2,625.5 243.1,628.1 241.0,630.8 C238.9,633.5 236.7,636.1 234.6,638.8 C232.4,641.5 230.2,644.1 228.0,646.8 C225.8,649.5 223.5,652.1 221.2,654.8 C219.0,657.5 216.7,660.1 214.3,662.8 C212.0,665.5 209.7,668.1 207.3,670.8 C204.9,673.5 202.5,676.1 200.1,678.8 C197.7,681.5 195.3,684.1 192.8,686.8 C190.3,689.5 187.4,692.6 185.4,694.8 C183.3,697.0 183.4,697.1 180.5,700.0 C177.6,702.9 171.9,709.0 168.0,712.0 C164.1,715.0 160.5,716.3 157.0,718.0 C153.5,719.7 150.2,721.0 147.0,722.0 C143.8,723.0 139.5,723.7 138.0,724.0" stroke="#000070"/>
</g>

<!-- gray arrow -->
<g stroke="#8c8c94" stroke-width="2.8" fill="none" stroke-linecap="round" stroke-linejoin="round">
<path d="M529.5,412.4 L321.5,282"/>
<path d="M347.7,281.3 L320.6,281.4 L332.5,304.2"/>
</g>
<!-- small curved arrow -->
<g stroke="#111" stroke-width="1.6" fill="none" stroke-linecap="round">
<path d="M618.4,17.6 C628,12.6 645,13.5 654.5,25"/>
<path d="M656.7,17.4 L655,25.5 L646.8,23.3"/>
</g>
<!-- scale bar -->
<g stroke="#222" stroke-width="1.4" fill="none">
<path d="M646.6,705.3 V713.2 H717.6 V705.3"/>
</g>
<text transform="translate(672.3,706) scale(0.97,1.09)" font-size="26" fill="#111" stroke="#111" stroke-width="0.6">4</text>
<circle cx="693.6" cy="682.9" r="2.6" fill="none" stroke="#111" stroke-width="1.4"/>
<!-- x arrows -->
<g stroke="#222" stroke-width="4" fill="#222">
<path d="M146,769 H190.4" fill="none"/>
<path d="M122.5,769.5 L146.6,760.5 L146.6,778.6 Z" stroke="none"/>
<path d="M677.6,769.8 H722" fill="none"/>
<path d="M745,769.8 L721,760 L721,778.9 Z" stroke="none"/>
</g>
<g font-size="26.8" fill="#484848" stroke="#484848" stroke-width="0.3">
<text x="204" y="778">Plantarflexion</text>
<text x="529.2" y="778">Dorsiflexion</text>
<text x="330" y="817.4" font-size="26.95">Ankle Angle (deg)</text>
</g>
<text transform="translate(20.9,596.2) rotate(-90)" font-size="28.3" fill="#000" stroke="#000" stroke-width="0.3">Ankle Plantarflexion Moment (Nm/kg)</text>
<text transform="translate(274,339) rotate(-58.5)" font-size="20.8" fill="#000" stroke="#000" stroke-width="0.25" font-style="italic">increasing stiffness</text>
</svg>
</body></html>
